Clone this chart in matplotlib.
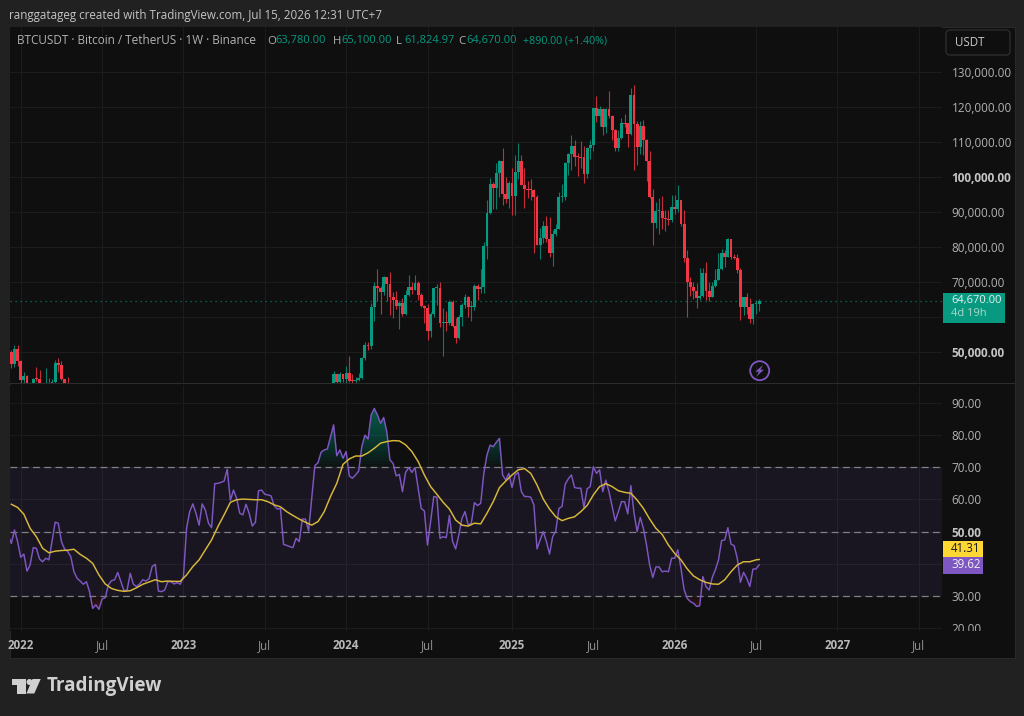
import numpy as np
import pandas as pd
import matplotlib
matplotlib.use("Agg")
import matplotlib.pyplot as plt
import matplotlib.dates as mdates
from matplotlib.patches import Rectangle, FancyBboxPatch, Circle, Polygon
from matplotlib.transforms import Affine2D, Bbox

plt.rcParams['font.family'] = ['Open Sans', 'DejaVu Sans']

# ---------- data (USDT thousands for prices) ----------
opens_a = [50.0,46.7,50.8,47.3,41.9,43.1,36.3,37.9,42.4,42.2,38.4,37.7,37.8,37.8,41.3,46.8,46.4,42.2,39.7]
highs_a = [50.5,51.9,52.1,47.6,44.4,43.5,38.9,42.6,45.8,44.8,39.8,45.4,42.6,42.3,47.7,48.2,47.4,42.4,42.9]
lows_a = [45.5,45.6,46.0,40.5,39.6,34.0,32.9,36.2,41.7,37.6,34.3,37.1,37.2,37.2,40.5,44.4,42.0,39.2,38.5]
closes_a = [46.7,50.8,47.3,41.9,43.1,36.3,37.9,42.4,42.2,38.4,37.7,37.8,37.8,41.3,46.8,46.4,42.2,39.7,39.5]

opens_b = [39.97,43.8,41.4,43.7,42.3,43.9,41.7,41.6,42.0,42.6,
           48.3,52.1,51.7,62.9,68.9,68.4,67.2,71.3,69.4,65.6,
           64.9,63.1,64.0,60.8,66.3,68.5,67.7,69.6,66.2,63.2,
           62.7,55.9,60.8,68.2,68.3,58.2,58.7,58.4,64.2,57.3,
           54.1,60.0,63.3,65.6,62.8,62.9,69.0,68.0,68.7,80.4,
           89.8,97.9,97.0,101.1,104.5,95.2,93.7,98.3,94.5,101.3,
           104.7,97.7,96.5,96.4,96.2,94.2,80.7,82.6,86.1,82.4,
           78.4,83.7,85.2,94.3,94.3,104.1,106.5,109.0,105.7,105.6,
           105.6,100.9,108.4,109.2,119.8,117.3,119.4,114.2,119.3,117.5,
           113.5,108.2,111.1,115.3,115.3,112.2,123.5,115.2,108.7,114.5,
           110.5,104.7,94.2,86.8,90.4,90.4,88.2,88.1,87.8,91.5,
           91.0,93.4,86.7,76.95,70.1,68.7,67.4,65.5,66.0,72.7,
           67.5,65.8,68.9,70.6,73.6,78.4,77.2,82.2,77.2,76.9,
           73.4,63.0,65.6,63.0,59.4,63.6,63.78]
highs_b = [44.7,43.8,44.3,43.8,45.9,48.9,43.6,42.8,43.9,48.6,
           52.8,53.0,64.0,70.0,73.8,68.9,71.7,71.4,72.8,67.2,
           67.3,64.7,65.5,67.7,71.9,70.0,72.0,70.2,67.0,63.4,
           63.8,61.4,68.4,69.4,70.0,62.7,61.8,65.0,65.0,59.8,
           60.6,64.1,66.5,66.0,64.5,69.4,69.5,73.6,81.5,93.3,
           99.8,98.7,104.0,105.0,108.3,99.9,98.9,102.7,106.4,109.6,
           106.4,102.5,98.8,99.5,96.5,95.0,85.3,87.5,88.8,88.5,
           84.9,86.5,95.7,97.9,104.4,107.0,111.9,110.7,106.9,110.4,
           108.9,108.5,110.5,119.8,123.2,120.2,119.8,119.7,124.5,117.6,
           113.6,113.4,116.8,117.9,115.4,125.5,126.2,115.9,116.0,116.4,
           111.0,107.5,96.6,93.0,94.0,94.6,90.6,90.6,94.8,94.8,
           97.7,93.5,90.6,79.1,71.3,70.1,69.6,73.9,74.1,75.8,
           70.1,70.1,73.6,78.2,79.3,79.1,82.7,82.2,78.0,78.0,
           73.9,65.6,67.0,65.3,63.9,65.0,65.1]
lows_b = [39.9,40.5,40.5,41.3,40.8,41.5,40.3,38.5,41.8,42.3,
          47.6,50.5,50.9,59.0,64.5,60.8,66.4,64.5,60.6,59.6,
          62.4,56.5,60.2,60.7,66.1,66.7,67.6,65.0,62.8,58.4,
          53.5,54.3,59.9,63.5,57.1,49.0,56.1,57.8,57.2,52.5,
          53.6,57.5,62.7,59.9,58.9,62.0,65.0,66.8,66.8,76.6,
          89.4,90.8,91.0,94.2,92.0,92.5,91.2,89.2,89.1,99.4,
          97.7,91.2,94.1,93.4,78.2,80.6,76.6,81.1,81.5,77.1,
          74.5,83.1,85.1,92.9,93.3,100.7,102.0,103.1,100.4,102.6,
          98.2,99.6,105.1,107.5,115.7,114.7,112.0,112.6,116.8,110.7,
          107.3,107.3,110.8,114.4,108.6,111.9,102.0,103.5,106.7,106.3,
          98.9,94.0,80.6,85.4,83.8,85.1,84.5,86.4,87.2,89.5,
          90.0,86.0,75.8,60.1,66.0,65.1,62.5,64.9,65.8,64.9,
          64.7,65.6,68.7,70.6,73.4,74.4,77.2,76.6,76.6,72.5,
          59.1,60.6,61.0,58.2,57.9,61.0,61.82]
closes_b = [43.8,41.4,43.7,42.3,43.9,41.7,41.6,42.0,42.6,48.3,
            52.1,51.6,62.9,68.9,68.4,67.2,71.3,69.4,65.6,64.9,
            63.1,64.0,60.8,66.3,68.5,67.7,69.6,66.2,63.2,62.7,
            55.9,60.8,68.2,68.3,58.2,58.7,58.4,64.2,57.3,54.1,
            60.0,63.3,65.6,62.8,62.9,69.0,68.0,68.7,80.4,89.8,
            97.9,97.0,101.1,104.5,95.2,93.7,98.3,94.5,101.3,104.7,
            97.7,96.5,96.4,96.2,94.2,80.7,82.6,86.1,82.4,78.4,
            83.7,85.2,94.3,94.3,104.1,106.5,109.0,105.7,105.6,105.5,
            100.9,108.4,109.2,119.8,117.3,119.4,114.2,119.3,117.5,113.5,
            108.2,111.1,115.3,115.2,112.2,123.5,115.2,108.7,114.5,110.5,
            104.7,94.2,86.8,90.4,90.5,88.2,88.1,87.8,91.5,91.0,
            93.4,86.7,76.95,70.1,68.7,67.4,65.5,66.0,72.7,67.5,
            65.8,68.9,70.6,73.6,78.4,77.2,82.2,77.2,76.9,73.4,
            63.0,65.6,63.0,59.4,63.6,63.78,64.67]

rsi_2021 = [49, 46.3,50.5,46.9]
rsi_2022 = [42,43,37.7,39.6,45,44.8,41.5,40.6,41.7,41.2,46.9,52.9,52.6,46.9,44.6,43.8,42.2,37.5,35.5,34.6,
            33.6,34.4,31.3,26.1,27.2,25.8,29,29.4,33.4,34.7,35,37.3,34.4,31.6,31.8,37,33.6,32.9,33.7,35,
            34.6,35.3,39.1,39.8,31.5,31.3,31.8,34.4,34.4,33.7,34.1,33.6]
rsi_2023 = [36,51,56.2,58.6,55.7,52,58.6,56.7,52.6,51.2,64.9,65,65.3,65.7,69.4,59.7,62.9,60.3,55.7,55.2,
            58.5,55.7,51.7,52.9,62.7,62.9,61.6,61.4,61.1,58,57,57.2,46,45.7,45.3,45,47.9,46.9,53.9,53.9,
            50.2,60.3,70.5,71.4,74.7,75.4,75.7,79.5,83.2,73.6,75.4,72.8]
rsi_2024 = [74.9,67.3,66.6,67.6,68.8,76.4,80,78.8,86.3,88.3,86.3,83.7,85.5,81,72.3,71.2,67.3,67.8,62.4,68.4,
            69.9,68.4,69.9,63.5,57.2,56.4,45.8,53.1,60.9,60.7,47.9,48.4,48.1,55,47,44.6,48.9,54.1,56.2,52,
            52.6,59,58.1,58.8,68.1,73.8,76.9,76.4,77.8,79,67.6,66,68.1]
rsi_2025 = [63.7,67.6,68.4,62.4,60.9,60.9,60.7,58.3,44.6,47.4,50,46.9,43,48.4,50.2,57.2,57.8,64.7,66.4,67.6,
            63.7,63.5,63.5,57.4,63.3,64,70.2,68.1,69.2,62.4,66,62.4,57.8,53.3,56.2,59.3,59.3,55.5,64.3,55.7,
            50,54.4,51,45.8,39.6,35.7,39,39,37.5,37.7,37.5,41.7]
rsi_2026 = [41.7,44.3,38.6,32,29.2,28.2,27.7,26.7,26.9,36,32.9,31.8,35.7,38.1,41.2,47.2,47.4,51.2,46.1,45.6,
            41.7,34.2,37.3,35.5,32.9,38.3,38.4,39.62]

# RSI moving average, read every second week from 13 Dec 2021, then the last bar
rsi_ma = [58.5,57.5,55.4,51,48.4,44.8,43.4,43.9,44.1,44.2,44.5,42.9,41.7,40.1,36.5,33.7,32.3,31.7,31.4,31.6,
          32.5,33.6,34.3,35,34.4,34.6,34.5,34.5,36.5,39.1,41.2,44.3,47.4,51.5,55.2,59.1,59.9,60.1,60,59.9,
          59.9,59.3,58.3,57.7,56.2,55,53.9,52.9,52,53.1,56.2,60.9,65,
          70.9,72.6,73.5,73.5,74.5,75.9,77.5,78,78.3,78.2,77,74.9,71.8,67.6,64,61.6,59.1,57,53.6,52,
          51.7,52.6,52.4,55.7,59.3,63.7,65.7,67.6,69.2,69.6,68.1,64.5,60.1,57,54.6,53.4,54.1,54.6,56.2,58.1,
          61.4,64,64.9,64,62.7,62.2,61.9,59.8,57.2,53.9,51,49.1,45.8,
          43.2,41.2,38.4,36.2,35,34.2,33.7,33.6,35,37.5,39.6,40.6,40.6,41.2]
rsi_ma_last = 41.31

price_ticks = [50000,60000,70000,80000,90000,100000,110000,120000,130000]
price_labels = ['50,000.00','','70,000.00','80,000.00','90,000.00','100,000.00','110,000.00','120,000.00','130,000.00']
rsi_ticks = [20,30,40,50,60,70,80,90]
rsi_labels = ['20.00','30.00','','50.00','60.00','70.00','80.00','90.00']
time_tick_dates = ['2022-01-03','2022-07-04','2023-01-02','2023-07-03','2024-01-01','2024-07-01',
                   '2025-01-06','2025-07-07','2026-01-05','2026-07-06','2027-01-04','2027-07-05']
time_tick_labels = ['2022','Jul','2023','Jul','2024','Jul','2025','Jul','2026','Jul','2027','Jul']
last_price = 64670
last_rsi = 39.62

# ---------- colours ----------
UP = '#089981'; DOWN = '#f23645'; PURPLE = '#7e57c2'; YELLOW = '#d9b93a'
OUTER = '#212121'; PANEL = '#0f0f0f'; GRID = '#1c1c1c'; TXT = '#b2b2b2'

W, H = 1024, 716
fig = plt.figure(figsize=(W/100, H/100), dpi=100, facecolor=OUTER)
PX = Affine2D().scale(1, -1).translate(0, H)   # top-left pixel coordinates

def pane(x0, y0, x1, y1):
    return fig.add_axes([x0/W, 1-y1/H, (x1-x0)/W, (y1-y0)/H], facecolor=PANEL)

fig.add_artist(Rectangle((9.5, 26.5), 1005, 631, transform=PX, fc=PANEL, ec='#2a2a2a', lw=0.7, zorder=-5))

ax1 = pane(10, 27, 942, 383)
ax2 = pane(10, 384.5, 942, 631)

dates_a = pd.date_range('2021-12-13', periods=len(opens_a), freq='7D')
dates_b = pd.date_range('2023-12-04', periods=len(opens_b), freq='7D')
xlim = mdates.date2num([pd.Timestamp('2021-12-10'), pd.Timestamp('2027-08-26')])
px_per_day = 932 / (xlim[1] - xlim[0])

def candles(ax, dates, o, h, l, c):
    x = mdates.date2num(dates)
    o, h, l, c = [np.array(v) * 1000 for v in (o, h, l, c)]
    cols = np.where(c >= o, UP, DOWN)
    ax.vlines(x, l, h, colors=cols, lw=0.8, alpha=0.8, zorder=3)
    ax.bar(x, np.maximum(np.abs(c - o), 300), bottom=np.minimum(o, c), width=2.9 / px_per_day,
           color=cols, lw=0, zorder=4)

candles(ax1, dates_a, opens_a, highs_a, lows_a, closes_a)
candles(ax1, dates_b, opens_b, highs_b, lows_b, closes_b)
ax1.set_xlim(*xlim)
ax1.set_ylim(50000 - 31/3.5*1000, 130000 + 45/3.5*1000)
ax1.axhline(last_price, color=UP, lw=0.9, alpha=0.75, ls=(0, (1, 3)), zorder=2)

# RSI pane
rsi = np.array(rsi_2021 + rsi_2022 + rsi_2023 + rsi_2024 + rsi_2025 + rsi_2026, dtype=float)
rsi_x = mdates.date2num(pd.date_range('2021-12-06', periods=len(rsi), freq='7D'))
ma_dates = list(pd.date_range('2021-12-13', periods=len(rsi_ma), freq='14D')) + [pd.Timestamp('2026-07-13')]
ma_vals = rsi_ma + [rsi_ma_last]

ax2.axhspan(30, 70, color=PURPLE, alpha=0.10, lw=0, zorder=1)
for lev in np.arange(70, 90, 1.0):
    ax2.fill_between(rsi_x, lev, rsi, where=rsi > lev, interpolate=True, color=UP, alpha=0.045, lw=0, zorder=1.5)
for lev in np.arange(30, 24, -1.0):
    ax2.fill_between(rsi_x, lev, rsi, where=rsi < lev, interpolate=True, color=DOWN, alpha=0.05, lw=0, zorder=1.5)
for lev in (30, 50, 70):
    ax2.axhline(lev, color='#80808a', lw=0.9, ls=(0, (5.5, 3.5)), zorder=2)
ax2.plot(rsi_x, rsi, color=PURPLE, lw=1.05, zorder=4, solid_joinstyle='round')
ax2.plot(mdates.date2num(ma_dates), ma_vals, color=YELLOW, lw=1.05, zorder=5)
ax2.set_xlim(*xlim)
ax2.set_ylim(90 - (631-403)/3.214, 90 + (403-384.5)/3.214)

# Axes, ticks, grid
time_ticks = mdates.date2num(pd.to_datetime(time_tick_dates))
for ax in (ax1, ax2):
    for s in ax.spines.values():
        s.set_visible(False)
    ax.set_xticks(time_ticks)
    ax.grid(True, color=GRID, lw=0.75, zorder=0)
    ax.set_axisbelow(True)
    ax.yaxis.tick_right()
    ax.tick_params(length=0)

ax1.set_yticks(price_ticks, price_labels)
ax1.tick_params(axis='x', labelbottom=False)
ax1.tick_params(axis='y', labelcolor=TXT, labelsize=8.5, pad=7)
ax2.set_yticks(rsi_ticks, rsi_labels)
ax2.tick_params(axis='y', labelcolor=TXT, labelsize=8.5, pad=7)
ax2.set_xticks(time_ticks, time_tick_labels)
ax2.tick_params(axis='x', labelsize=8.3, pad=6)
for lbl in ax2.get_xticklabels():
    if lbl.get_text() == 'Jul':
        lbl.set_color('#929292')
    else:
        lbl.set_color('#b8b8b8'); lbl.set_fontweight('bold')
for lbl in ax1.get_yticklabels():
    if lbl.get_text() in ('100,000.00', '50,000.00'):
        lbl.set_fontweight('bold'); lbl.set_color('#c4c4c4')
for lbl in ax2.get_yticklabels():
    if lbl.get_text() == '50.00':
        lbl.set_fontweight('bold'); lbl.set_color('#c4c4c4')
    if lbl.get_text() == '20.00':
        lbl.set_clip_box(Bbox([[940, H-631], [1015, H-600]]))
        lbl.set_clip_on(True)

# Pane divider
fig.add_artist(Rectangle((9.5, 382.6), 1005, 1.6, transform=PX, fc='#2c2c2c', ec='none', zorder=6))

def label(x, y, s, color, size=8, weight='normal', **kw):
    fig.text(x, y, s, transform=PX, color=color, fontsize=size, fontweight=weight,
             va='center', ha=kw.pop('ha', 'left'), zorder=12, **kw)

# Header and legend
label(9, 15, 'ranggatageg created with TradingView.com, Jul 15, 2026 12:31 UTC+7', '#c4c4c4', 8.4)
label(17, 41, 'BTCUSDT · Bitcoin / TetherUS · 1W · Binance', '#b2b2b2', 8.5)
for x, head, val in [(267, 'O', '63,780.00'), (333, 'H', '65,100.00'), (396, 'L', '61,824.97'), (458, 'C', '64,670.00')]:
    label(x, 41, head, '#b2b2b2', 8.2)
    label(x + 8, 41, val, UP, 8)
label(523, 41, '+890.00 (+1.40%)', UP, 7.7)

# USDT box
fig.add_artist(FancyBboxPatch((948, 32), 60, 21, boxstyle='round,pad=2,rounding_size=4', transform=PX,
                              fc=PANEL, ec='#333333', lw=0.8, zorder=10))
label(955, 42.5, 'USDT', '#c8c8c8', 8.3)

# Last price tag
fig.add_artist(Rectangle((943, 293), 61.5, 30, transform=PX, fc=UP, ec='none', zorder=10))
label(951, 301, '64,670.00', '#e6f3f0', 8)
label(951, 314, '4d 19h', '#a5d9cd', 8)

# RSI value tags
fig.add_artist(Rectangle((943, 540.5), 40, 16.5, transform=PX, fc='#fdd835', ec='none', zorder=10))
label(951, 548.5, f'{rsi_ma_last:.2f}', '#1c1c1c', 8.3)
fig.add_artist(Rectangle((943, 557), 40, 16.5, transform=PX, fc=PURPLE, ec='none', zorder=10))
label(951, 565, f'{last_rsi:.2f}', '#f0f0f0', 8.3)

# Lightning icon
fig.add_artist(Circle((759.7, 370.7), 9.5, transform=PX, fc='none', ec=PURPLE, lw=1.3, zorder=10))
fig.add_artist(Polygon([(763, 365), (755.3, 371.7), (758.8, 371.7), (756.5, 376.5), (764, 369.7), (760.4, 369.7)],
                       closed=True, transform=PX, fc=PURPLE, ec='none', zorder=10))

# TradingView logo
LOGO = '#d0d0d0'
fig.add_artist(Polygon([(11.7, 679), (26, 679), (26, 693.5), (17.3, 693.5), (17.3, 685), (11.7, 685)],
                       closed=True, transform=PX, fc=LOGO, ec='none', zorder=10))
fig.add_artist(Circle((29.5, 682), 3.0, transform=PX, fc=LOGO, ec='none', zorder=10))
fig.add_artist(Polygon([(32.5, 679), (40.7, 679), (34.3, 693.5), (26.4, 693.5)],
                       closed=True, transform=PX, fc=LOGO, ec='none', zorder=10))
label(47, 686.5, 'TradingView', LOGO, 13.6, weight='bold')

fig.savefig('out.png', dpi=100, facecolor=OUTER)
